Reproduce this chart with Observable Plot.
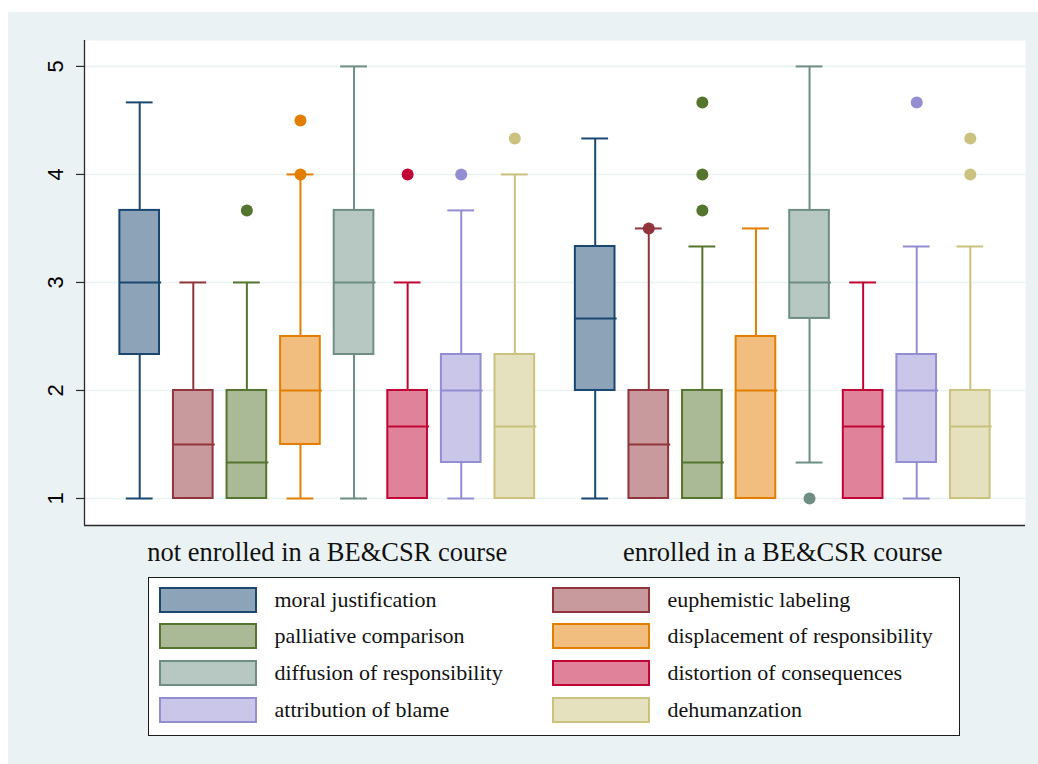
<!DOCTYPE html>
<html>
<head>
<meta charset="utf-8">
<script src="https://cdn.jsdelivr.net/npm/d3@7"></script>
<script src="https://cdn.jsdelivr.net/npm/@observablehq/plot@0.6"></script>
<style>
  html, body { margin: 0; padding: 0; background: #ffffff; }
  #page { position: relative; width: 1038px; height: 764px; overflow: hidden; background: #ffffff; }
  #bg { position: absolute; left: 8px; top: 12px; right: 0; bottom: 0; background: #EAF2F3; }
  #chart { position: absolute; left: 0; top: 0; }
  #legend { position: absolute; left: 148px; top: 577px; width: 812px; height: 159px; box-sizing: border-box;
            border: 1.5px solid #1c1c1c; background: #ffffff; font-family: "Liberation Serif", "DejaVu Serif", serif; }
  .item { position: absolute; height: 26px; display: flex; align-items: center; }
  .sw { width: 98px; height: 26px; box-sizing: border-box; border: 2px solid; flex: none; }
  .lab { margin-left: 18px; font-size: 22px; color: #111; white-space: nowrap; }
</style>
</head>
<body>
<div id="page">
  <div id="bg"></div>
  <div id="chart"></div>
  <div id="legend"></div>
</div>
<script>
// ---- data ----
const series = ["moral justification", "euphemistic labeling", "palliative comparison",
  "displacement of responsibility", "diffusion of responsibility", "distortion of consequences",
  "attribution of blame", "dehumanzation"];
const groups = ["not enrolled in a BE&CSR course", "enrolled in a BE&CSR course"];
const strokeColors = ["#1A476F", "#90353B", "#55752F", "#E37E00", "#6E8E84", "#C10534", "#938DD2", "#CAC27E"];
const fillColors   = ["#8CA3B8", "#C89A9D", "#AABA97", "#F1BE80", "#B7C7C2", "#E0829A", "#C9C6E9", "#E5E1BF"];
const yTicks = [1, 2, 3, 4, 5];

// group 0: not enrolled
const lowAdj0 = [1, 1, 1, 1, 1, 1, 1, 1];
const q1_0    = [2.333, 1, 1, 1.5, 2.333, 1, 1.333, 1];
const med0    = [3, 1.5, 1.333, 2, 3, 1.667, 2, 1.667];
const q3_0    = [3.667, 2, 2, 2.5, 3.667, 2, 2.333, 2.333];
const upAdj0  = [4.667, 3, 3, 4, 5, 3, 3.667, 4];
// group 1: enrolled
const lowAdj1 = [1, 1, 1, 1, 1.333, 1, 1, 1];
const q1_1    = [2, 1, 1, 1, 2.667, 1, 1.333, 1];
const med1    = [2.667, 1.5, 1.333, 2, 3, 1.667, 2, 1.667];
const q3_1    = [3.333, 2, 2, 2.5, 3.667, 2, 2.333, 2];
const upAdj1  = [4.333, 3.5, 3.333, 3.5, 5, 3, 3.333, 3.333];
// outliers: [group, series index, value]
const outliers0 = [[0, 2, 3.667], [0, 3, 4], [0, 3, 4.5], [0, 5, 4], [0, 6, 4], [0, 7, 4.333]];
const outliers1 = [[1, 1, 3.5], [1, 2, 3.667], [1, 2, 4], [1, 2, 4.667], [1, 4, 1], [1, 6, 4.667], [1, 7, 4], [1, 7, 4.333]];

// ---- build table ----
const stats = [
  [lowAdj0, q1_0, med0, q3_0, upAdj0],
  [lowAdj1, q1_1, med1, q3_1, upAdj1]
];
const groupGap = 8.5;           // slot offset between the two groups
const pos = (g, i) => g * groupGap + i;
const boxes = [];
stats.forEach(([lo, q1, md, q3, hi], g) => {
  series.forEach((s, i) => {
    boxes.push({g, i, s, x: pos(g, i), lo: lo[i], q1: q1[i], med: md[i], q3: q3[i], hi: hi[i]});
  });
});
const outs = [...outliers0, ...outliers1].map(([g, i, v]) => ({g, i, x: pos(g, i), v}));

const xMin = -1.03, xMax = 16.53, yMin = 0.75, yMax = 5.24;
const bw = 0.37, cw = 0.25;
const W = 1038, H = 580;

const chart = Plot.plot({
  width: W, height: H,
  marginLeft: 84, marginRight: 13, marginTop: 40, marginBottom: 55,
  style: {background: "transparent", overflow: "visible"},
  x: {type: "linear", domain: [xMin, xMax], axis: null},
  y: {domain: [yMin, yMax], axis: null},
  marks: [
    Plot.frame({fill: "white", stroke: "none"}),
    Plot.ruleY(yTicks, {stroke: "#EAF2F3", strokeWidth: 1.6}),
    // lower whiskers
    Plot.ruleX(boxes.filter(d => d.q1 > d.lo), {x: "x", y1: "lo", y2: "q1", stroke: d => strokeColors[d.i], strokeWidth: 2}),
    Plot.ruleY(boxes.filter(d => d.q1 > d.lo), {y: "lo", x1: d => d.x - cw, x2: d => d.x + cw, stroke: d => strokeColors[d.i], strokeWidth: 2}),
    // upper whiskers
    Plot.ruleX(boxes.filter(d => d.hi > d.q3), {x: "x", y1: "q3", y2: "hi", stroke: d => strokeColors[d.i], strokeWidth: 2}),
    Plot.ruleY(boxes.filter(d => d.hi > d.q3), {y: "hi", x1: d => d.x - cw, x2: d => d.x + cw, stroke: d => strokeColors[d.i], strokeWidth: 2}),
    // boxes
    Plot.rect(boxes, {x1: d => d.x - bw, x2: d => d.x + bw, y1: "q1", y2: "q3",
      fill: d => fillColors[d.i], stroke: d => strokeColors[d.i], strokeWidth: 2}),
    // medians
    Plot.ruleY(boxes, {y: "med", x1: d => d.x - bw, x2: d => d.x + bw + 0.04, stroke: d => strokeColors[d.i], strokeWidth: 2}),
    // outliers
    Plot.dot(outs, {x: "x", y: "v", r: 6, fill: d => strokeColors[d.i], stroke: "none"}),
    // axis lines
    Plot.ruleX([xMin], {stroke: "#2a2a2a", strokeWidth: 1.3}),
    Plot.ruleY([yMin], {stroke: "#2a2a2a", strokeWidth: 1.3}),
    // y axis ticks and labels
    Plot.axisY(yTicks, {anchor: "left", tickSize: 8, tickPadding: 14, tickRotate: -90,
      fontSize: 22, fontFamily: "Liberation Sans, Arial, sans-serif", stroke: "#2a2a2a", fill: "#000", strokeWidth: 1.2, tickFormat: d => String(d)}),
    // group labels
    Plot.text(groups, {x: (d, j) => j * groupGap + 3.5, y: yMin, dy: 35, text: d => d, lineAnchor: "bottom",
      fontSize: 26.5, fontFamily: "Liberation Serif, DejaVu Serif, serif", fill: "#111"})
  ]
});
document.getElementById("chart").appendChild(chart);

// ---- legend ----
const legend = document.getElementById("legend");
series.forEach((s, k) => {
  const col = k % 2, row = Math.floor(k / 2);
  const it = document.createElement("div");
  it.className = "item";
  it.style.left = (9.5 + col * 393) + "px";
  it.style.top = (8.5 + row * 36.8) + "px";
  const sw = document.createElement("div");
  sw.className = "sw";
  sw.style.background = fillColors[k];
  sw.style.borderColor = strokeColors[k];
  const lab = document.createElement("span");
  lab.className = "lab";
  lab.textContent = s;
  it.appendChild(sw); it.appendChild(lab);
  legend.appendChild(it);
});
</script>
</body>
</html>
